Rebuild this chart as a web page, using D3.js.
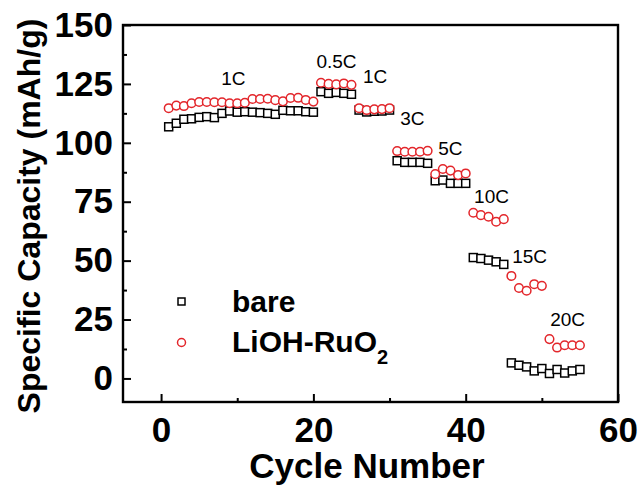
<!DOCTYPE html>
<html>
<head>
<meta charset="utf-8">
<script src="https://cdn.jsdelivr.net/npm/d3@7"></script>
<style>
  body { margin: 0; background: #fff; }
  text { font-family: "Liberation Sans", Arial, sans-serif; }
</style>
</head>
<body>
<div id="chart"></div>
<script>
// cycle numbers
var cycles = [1, 2, 3, 4, 5, 6, 7, 8, 9, 10, 11, 12, 13, 14, 15, 16, 17, 18, 19, 20,
  21, 22, 23, 24, 25, 26, 27, 28, 29, 30, 31, 32, 33, 34, 35, 36, 37, 38, 39, 40,
  41, 42, 43, 44, 45, 46, 47, 48, 49, 50, 51, 52, 53, 54, 55];

// specific capacity (mAh/g)
var bare = [106.8, 108.3, 110.0, 110.2, 110.8, 111.1, 110.7, 112.5, 113.5, 113.0,
  113.2, 113.0, 112.8, 112.5, 112.1, 113.8, 113.6, 113.6, 113.2, 113.0,
  121.7, 121.0, 121.4, 121.0, 120.6,
  113.9, 113.1, 113.4, 113.5, 113.9,
  92.4, 91.7, 91.7, 91.7, 91.3,
  83.9, 84.2, 82.8, 82.8, 82.8,
  51.3, 50.9, 50.2, 49.5, 48.4,
  6.6, 5.6, 4.9, 3.2, 4.2,
  2.1, 3.8, 2.3, 3.2, 3.8];

var lioh = [114.7, 115.8, 115.6, 116.8, 117.3, 117.3, 117.2, 117.2, 116.8, 116.8,
  117.0, 118.6, 118.6, 118.7, 118.1, 117.6, 119.0, 119.1, 118.2, 117.5,
  125.5, 125.0, 124.8, 125.2, 124.6,
  114.7, 113.9, 114.2, 114.3, 114.7,
  96.5, 96.2, 96.2, 96.2, 96.6,
  86.7, 88.9, 88.2, 86.3, 87.0,
  70.3, 69.3, 68.6, 66.5, 67.6,
  43.5, 38.4, 37.2, 40.0, 39.3,
  16.7, 13.1, 14.1, 14.1, 14.1];

// C-rate labels and where they sit (cycle, capacity)
var rateLabels = ["1C", "0.5C", "1C", "3C", "5C", "10C", "15C", "20C"];
var rateCycle = [7.9, 20.4, 26.5, 31.4, 36.4, 41.1, 46.1, 51.1];
var rateValue = [124.6, 131.8, 125.5, 107.6, 94.8, 74.3, 49.1, 22.3];

var xTicks = [0, 20, 40, 60];
var xMinor = [10, 30, 50];
var yTicks = [0, 25, 50, 75, 100, 125, 150];
var yMinor = [12.5, 37.5, 62.5, 87.5, 112.5, 137.5];

var svgWidth = 640;
var svgHeight = 485;
var margin = { top: 25, right: 22, bottom: 83, left: 123 };
var width = svgWidth - margin.left - margin.right;
var height = svgHeight - margin.top - margin.bottom;

var red = "#e3262b";

var svg = d3.select("#chart")
  .append("svg")
  .attr("width", svgWidth)
  .attr("height", svgHeight);

svg.append("rect")
  .attr("width", svgWidth)
  .attr("height", svgHeight)
  .attr("fill", "#fff");

var chartGroup = svg.append("g")
  .attr("transform", `translate(${margin.left}, ${margin.top})`);

var xScale = d3.scaleLinear().domain([-5, 60]).range([0, width]);
var yScale = d3.scaleLinear().domain([-10, 150]).range([height, 0]);

// axes (ticks point inward)
var xAxis = chartGroup.append("g")
  .attr("transform", `translate(0, ${height})`)
  .call(d3.axisBottom(xScale).tickValues(xTicks).tickSizeInner(-8).tickSizeOuter(0).tickPadding(15));

chartGroup.append("g")
  .attr("transform", `translate(0, ${height})`)
  .call(d3.axisBottom(xScale).tickValues(xMinor).tickSizeInner(-4).tickSizeOuter(0).tickFormat(""));

var yAxis = chartGroup.append("g")
  .call(d3.axisLeft(yScale).tickValues(yTicks).tickSizeInner(-8).tickSizeOuter(0).tickPadding(10));

chartGroup.append("g")
  .call(d3.axisLeft(yScale).tickValues(yMinor).tickSizeInner(-4).tickSizeOuter(0).tickFormat(""));

chartGroup.selectAll(".domain").remove();
chartGroup.selectAll(".tick line").attr("stroke", "#000").attr("stroke-width", 2);
chartGroup.selectAll(".tick text")
  .attr("fill", "#000")
  .style("font-size", "35px")
  .style("font-weight", "bold")
  .style("font-family", "'Liberation Sans', Arial, sans-serif");

// frame
chartGroup.append("rect")
  .attr("width", width)
  .attr("height", height)
  .attr("fill", "none")
  .attr("stroke", "#000")
  .attr("stroke-width", 2.4);

// bare - open squares
chartGroup.append("g").selectAll("rect")
  .data(cycles)
  .enter()
  .append("rect")
  .attr("x", (d, i) => xScale(d) - 4)
  .attr("y", (d, i) => yScale(bare[i]) - 4)
  .attr("width", 8)
  .attr("height", 8)
  .attr("fill", "#fff")
  .attr("stroke", "#000")
  .attr("stroke-width", 1.5);

// LiOH-RuO2 - open circles
chartGroup.append("g").selectAll("circle")
  .data(cycles)
  .enter()
  .append("circle")
  .attr("cx", d => xScale(d))
  .attr("cy", (d, i) => yScale(lioh[i]))
  .attr("r", 4.3)
  .attr("fill", "#fff")
  .attr("stroke", red)
  .attr("stroke-width", 1.5);

// rate labels
chartGroup.append("g").selectAll("text")
  .data(rateLabels)
  .enter()
  .append("text")
  .attr("x", (d, i) => xScale(rateCycle[i]))
  .attr("y", (d, i) => yScale(rateValue[i]))
  .style("font-size", "19px")
  .attr("fill", "#000")
  .text(d => d);

// legend
var legend = svg.append("g");
legend.append("rect")
  .attr("x", 178).attr("y", 298)
  .attr("width", 7).attr("height", 7)
  .attr("fill", "none").attr("stroke", "#000").attr("stroke-width", 1.5);
legend.append("circle")
  .attr("cx", 181.5).attr("cy", 342.5).attr("r", 4)
  .attr("fill", "none").attr("stroke", red).attr("stroke-width", 1.5);
legend.append("text")
  .attr("x", 232).attr("y", 312)
  .style("font-size", "30px").style("font-weight", "bold")
  .text("bare");
var lt = legend.append("text")
  .attr("x", 232).attr("y", 352)
  .style("font-size", "30px").style("font-weight", "bold");
lt.append("tspan").text("LiOH-RuO");
lt.append("tspan").attr("dy", 12).style("font-size", "20px").text("2");

// axis titles
svg.append("text")
  .attr("x", 367)
  .attr("y", 478)
  .attr("text-anchor", "middle")
  .style("font-size", "35px")
  .style("font-weight", "bold")
  .text("Cycle Number");

svg.append("text")
  .attr("transform", "translate(40, 216) rotate(-90)")
  .attr("text-anchor", "middle")
  .style("font-size", "32px")
  .style("font-weight", "bold")
  .text("Specific Capacity (mAh/g)");
</script>
</body>
</html>
